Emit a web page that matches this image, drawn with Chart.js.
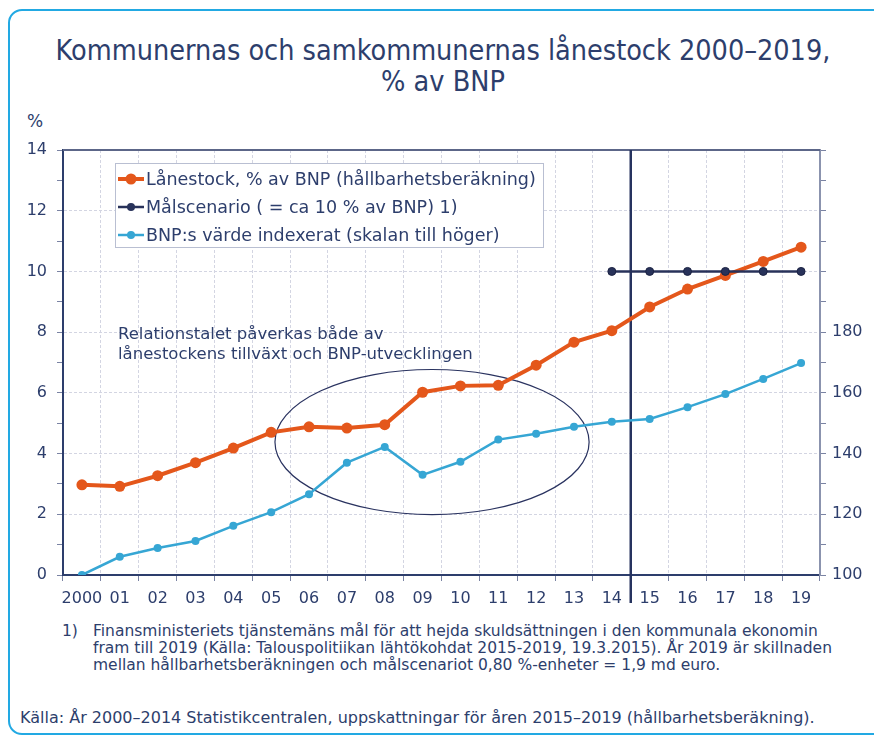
<!DOCTYPE html>
<html>
<head>
<meta charset="utf-8">
<script src="https://cdn.jsdelivr.net/npm/chart.js@4.4.1/dist/chart.umd.min.js"></script>
<style>
  html, body { margin: 0; padding: 0; background: #fff; }
  body { width: 874px; height: 737px; position: relative; overflow: hidden; font-family: 'DejaVu Sans', sans-serif; color: #2d3e6c; }
  .frame { position: absolute; left: 8px; top: 9px; width: 900px; height: 722px; border: 2.5px solid #22a9e3; border-radius: 14px; }
  .title { position: absolute; left: 0; width: 886px; top: 35px; text-align: center; font-family: 'DejaVu Sans Condensed', 'DejaVu Sans', sans-serif; font-stretch: condensed; font-size: 28.5px; line-height: 31px; color: #2d3e6c; }
  .unit { position: absolute; left: 27px; top: 111px; font-size: 17px; }
  .note { position: absolute; left: 118px; top: 324px; font-size: 16.5px; line-height: 20px; }
  .foot { position: absolute; left: 62px; top: 623px; font-size: 15.5px; line-height: 17px; }
  .foot .num { position: absolute; left: 0; top: 0; }
  .foot .txt { position: absolute; left: 31px; top: 0; white-space: nowrap; }
  .src { position: absolute; left: 20px; top: 708px; font-size: 16px; white-space: nowrap; }
  #chartWrap { position: absolute; left: 0; top: 100px; width: 874px; height: 520px; }
</style>
</head>
<body>
<div class="frame"></div>
<div class="title">Kommunernas och samkommunernas lånestock 2000–2019,<br>% av BNP</div>
<div class="unit">%</div>
<div id="chartWrap"><canvas id="chart"></canvas></div>
<div class="note">Relationstalet påverkas både av<br>lånestockens tillväxt och BNP-utvecklingen</div>
<div class="foot">
  <div class="num">1)</div>
  <div class="txt">Finansministeriets tjänstemäns mål för att hejda skuldsättningen i den kommunala ekonomin<br>fram till 2019 (Källa: Talouspolitiikan lähtökohdat 2015-2019, 19.3.2015). År 2019 är skillnaden<br>mellan hållbarhetsberäkningen och målscenariot 0,80 %-enheter = 1,9 md euro.</div>
</div>
<div class="src">Källa: År 2000–2014 Statistikcentralen, uppskattningar för åren 2015–2019 (hållbarhetsberäkning).</div>

<script>
// Data
const years = ['2000', '01', '02', '03', '04', '05', '06', '07', '08', '09',
               '10', '11', '12', '13', '14', '15', '16', '17', '18', '19'];

const loanStock = [2.97, 2.92, 3.27, 3.70, 4.18, 4.70, 4.88, 4.84, 4.95, 6.02,
                   6.23, 6.25, 6.91, 7.67, 8.05, 8.83, 9.42, 9.87, 10.33, 10.80];

const targetScenario = [null, null, null, null, null, null, null, null, null, null,
                        null, null, null, null, 10, 10, 10, 10, 10, 10];

const gdpIndex = [100, 106.0, 108.9, 111.2, 116.2, 120.7, 126.6, 137.0, 142.2, 133.0,
                  137.3, 144.6, 146.5, 148.8, 150.5, 151.4, 155.3, 159.6, 164.6, 169.8];

const seriesLabels = [
    'Lånestock, % av BNP (hållbarhetsberäkning)',
    'Målscenario ( = ca 10 % av BNP) 1)',
    'BNP:s värde indexerat (skalan till höger)'
];

const forecastStart = 14.5;      // divider between 2014 and 2015
const ellipseCenter = [9.25, 4.38];
const ellipseRadius = [4.15, 2.39];

const navy = '#2d3e6c';
const tickFont = { family: 'DejaVu Sans', size: 16 };

// Extra drawing: top border, divider line, ellipse and legend box
const extras = {
    id: 'extras',
    beforeDatasetsDraw(chart) {
        const { ctx, chartArea, scales } = chart;
        const x = scales.x, y = scales.y;
        ctx.save();

        // top border of plot
        ctx.strokeStyle = '#5c6688';
        ctx.lineWidth = 2;
        ctx.beginPath();
        ctx.moveTo(chartArea.left, chartArea.top);
        ctx.lineTo(chartArea.right, chartArea.top);
        ctx.stroke();

        // ellipse
        const cx = x.getPixelForValue(ellipseCenter[0]);
        const cy = y.getPixelForValue(ellipseCenter[1]);
        const rx = x.getPixelForValue(ellipseCenter[0] + ellipseRadius[0]) - cx;
        const ry = cy - y.getPixelForValue(ellipseCenter[1] + ellipseRadius[1]);
        ctx.strokeStyle = '#2a3360';
        ctx.lineWidth = 1.2;
        ctx.beginPath();
        ctx.ellipse(cx, cy, rx, ry, 0, 0, Math.PI * 2);
        ctx.stroke();

        // forecast divider
        const vx = x.getPixelForValue(forecastStart);
        ctx.strokeStyle = '#26335f';
        ctx.lineWidth = 2.5;
        ctx.beginPath();
        ctx.moveTo(vx, chartArea.top);
        ctx.lineTo(vx, chartArea.bottom + 28);
        ctx.stroke();
        ctx.restore();
    },
    afterDraw(chart) {
        const { ctx, chartArea } = chart;
        const left = chartArea.left + 52, top = chartArea.top + 13;
        const w = 428, h = 84, row = 28;
        ctx.save();
        ctx.fillStyle = '#fff';
        ctx.fillRect(left, top, w, h);
        ctx.strokeStyle = '#b9bfd2';
        ctx.lineWidth = 1;
        ctx.strokeRect(left + 0.5, top + 0.5, w, h);

        ctx.font = '17.5px "DejaVu Sans"';
        ctx.textBaseline = 'middle';
        chart.data.datasets.forEach((ds, i) => {
            const yy = top + 16 + i * row;
            ctx.strokeStyle = ds.borderColor;
            ctx.lineWidth = ds.borderWidth;
            ctx.beginPath();
            ctx.moveTo(left + 3, yy);
            ctx.lineTo(left + 29, yy);
            ctx.stroke();
            ctx.fillStyle = ds.pointBackgroundColor;
            ctx.beginPath();
            ctx.arc(left + 16, yy, ds.pointRadius, 0, Math.PI * 2);
            ctx.fill();
            ctx.fillStyle = navy;
            ctx.fillText(ds.label, left + 31, yy + 1);
        });
        ctx.restore();
    }
};

const ctx = document.getElementById('chart').getContext('2d');
new Chart(ctx, {
    type: 'line',
    data: {
        labels: years,
        datasets: [
            {
                label: seriesLabels[0],
                data: loanStock,
                yAxisID: 'y',
                borderColor: '#e4571b',
                backgroundColor: '#e4571b',
                pointBackgroundColor: '#e4571b',
                pointBorderColor: '#e4571b',
                borderWidth: 4,
                pointRadius: 5.5,
                pointBorderWidth: 0,
                order: 1
            },
            {
                label: seriesLabels[1],
                data: targetScenario,
                yAxisID: 'y',
                borderColor: '#28325a',
                backgroundColor: '#28325a',
                pointBackgroundColor: '#28325a',
                pointBorderColor: '#1b2242',
                borderWidth: 2.5,
                pointRadius: 4,
                pointBorderWidth: 1,
                order: 0
            },
            {
                label: seriesLabels[2],
                data: gdpIndex,
                yAxisID: 'y1',
                borderColor: '#36a6d4',
                backgroundColor: '#36a6d4',
                pointBackgroundColor: '#36a6d4',
                pointBorderColor: '#36a6d4',
                borderWidth: 2.5,
                pointRadius: 4,
                pointBorderWidth: 0,
                order: 2
            }
        ]
    },
    options: {
        responsive: true,
        maintainAspectRatio: false,
        animation: false,
        events: [],
        layout: { padding: { top: 50, left: 0, right: 0, bottom: 0 } },
        plugins: {
            legend: { display: false },
            title: { display: false },
            tooltip: { enabled: false }
        },
        elements: { line: { tension: 0 } },
        scales: {
            x: {
                offset: true,
                grid: {
                    offset: true,
                    color: '#d3d5e2',
                    tickColor: '#7a83a3',
                    tickLength: 6,
                    drawTicks: true
                },
                border: { color: '#2d3e6c', width: 2, dash: [3, 2] },
                ticks: { color: navy, font: tickFont, padding: 8, maxRotation: 0, autoSkip: false },
                afterFit(scale) { scale.height = 45; }
            },
            y: {
                position: 'left',
                min: 0,
                max: 14,
                ticks: {
                    stepSize: 1,
                    color: navy,
                    font: tickFont,
                    padding: 10,
                    callback: v => (v % 2 === 0 ? v : '')
                },
                grid: {
                    color: ctx => (ctx.tick && ctx.tick.value % 2 === 0 ? '#d3d5e2' : 'rgba(0,0,0,0)'),
                    tickColor: '#7a83a3',
                    tickLength: 6
                },
                border: { color: '#2d3e6c', width: 2, dash: [3, 2] },
                afterFit(scale) { scale.width = 63; }
            },
            y1: {
                position: 'right',
                min: 100,
                max: 240,
                ticks: {
                    stepSize: 10,
                    color: navy,
                    font: tickFont,
                    padding: 6,
                    callback: v => (v % 20 === 0 && v <= 180 ? v : '')
                },
                grid: {
                    drawOnChartArea: false,
                    tickColor: '#7a83a3',
                    tickLength: 6
                },
                border: { color: '#8b93ae', width: 2 },
                afterFit(scale) { scale.width = 54; }
            }
        }
    },
    plugins: [extras]
});
</script>
</body>
</html>
